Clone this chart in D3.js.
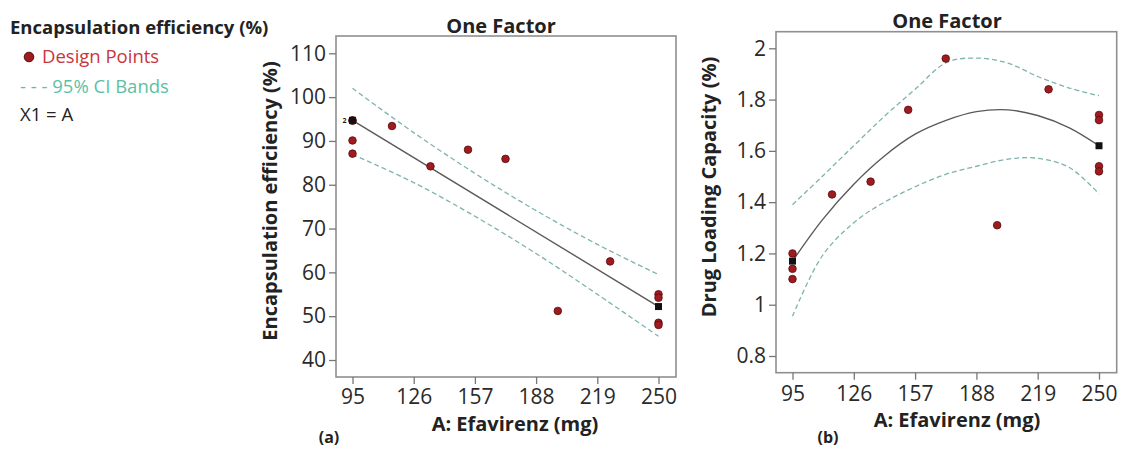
<!DOCTYPE html>
<html>
<head>
<meta charset="utf-8">
<script src="https://cdn.jsdelivr.net/npm/d3@7"></script>
<style>
    body { margin: 0; background: #fff; }
    svg text { font-family: "Open Sans", sans-serif; }
</style>
</head>
<body>
<div class="canvas"></div>
<script>
// tick labels shared by both panels (A: Efavirenz, mg)
const efvTicks = [95, 126, 157, 188, 219, 250]
const eeTicks = [40, 50, 60, 70, 80, 90, 100, 110]
const dlcTicks = [0.8, 1, 1.2, 1.4, 1.6, 1.8, 2]

// (a) encapsulation efficiency - design points
const eeX = [95, 95, 95, 95, 115, 134.5, 153.5, 172.5, 199, 225.5, 250, 250, 250, 250]
const eeY = [94.7, 94.6, 90.1, 87.1, 93.4, 84.2, 88.0, 85.9, 51.2, 62.5, 55.0, 54.2, 48.5, 48.0]
// (a) fitted line and 95% CI bands
const eeFitX = [95, 250]
const eeFit = [94.7, 52.2]
const eeBandX = [95, 126, 157, 188, 219, 250]
const eeUpper = [102.0, 91.9, 82.6, 74.1, 66.4, 59.5]
const eeLower = [86.9, 80.5, 72.8, 64.3, 55.0, 45.4]

// (b) drug loading capacity - design points
const dlcX = [95, 95, 95, 115, 134.5, 153.5, 172.5, 198.5, 224.5, 250, 250, 250, 250]
const dlcY = [1.20, 1.14, 1.10, 1.43, 1.48, 1.76, 1.96, 1.31, 1.84, 1.74, 1.72, 1.54, 1.52]
// (b) fitted curve and 95% CI bands
const dlcCurveX = [95, 110, 126, 141.5, 157, 173, 188, 204, 219, 235, 250]
const dlcFit = [1.17, 1.33, 1.47, 1.58, 1.665, 1.72, 1.753, 1.76, 1.738, 1.69, 1.62]
const dlcUpper = [1.39, 1.50, 1.62, 1.735, 1.84, 1.945, 1.962, 1.942, 1.89, 1.845, 1.815]
const dlcLower = [0.955, 1.19, 1.32, 1.40, 1.46, 1.51, 1.54, 1.568, 1.571, 1.535, 1.432]

// predicted means at the factor ends (black squares)
const meanX = [95, 250]
const eeMean = [94.7, 52.2]
const dlcMean = [1.17, 1.62]

const svg = d3.select(".canvas")
    .append("svg")
    .attr("width", 1121)
    .attr("height", 450)

const red = "#9e1b1f"
const teal = "#7fb3ae"

// legend on the left
const legend = svg.append("g")
legend.append("text")
    .attr("x", 10).attr("y", 34)
    .attr("font-size", 18.5).attr("font-weight", "bold")
    .attr("fill", "#222")
    .text("Encapsulation efficiency (%)")
legend.append("circle")
    .attr("cx", 29).attr("cy", 57).attr("r", 4.8)
    .attr("fill", red).attr("stroke", "#5a0a0c")
legend.append("text")
    .attr("x", 42).attr("y", 63)
    .attr("font-size", 18.5)
    .attr("fill", "#c8363c")
    .text("Design Points")
legend.append("text")
    .attr("x", 20).attr("y", 93)
    .attr("font-size", 18.5)
    .attr("fill", "#5cbfa5")
    .text("- - - 95% CI Bands")
legend.append("text")
    .attr("x", 20).attr("y", 121)
    .attr("font-size", 18.5)
    .attr("fill", "#222")
    .text("X1 = A")

function drawPanel(p) {
    const g = svg.append("g")

    const x = d3.scaleLinear()
        .domain([95, 250])
        .range(p.xRange)
    const y = d3.scaleLinear()
        .domain(p.yDomain)
        .range(p.yRange)

    // plot frame
    g.append("rect")
        .attr("x", p.frame[0]).attr("y", p.frame[1])
        .attr("width", p.frame[2] - p.frame[0])
        .attr("height", p.frame[3] - p.frame[1])
        .attr("fill", "none")
        .attr("stroke", "#8f8f8f")
        .attr("stroke-width", 1.6)

    const xAxis = d3.axisBottom(x)
        .tickValues(efvTicks)
        .tickSize(7)
        .tickSizeOuter(0)
        .tickPadding(p.xPad)
    const yAxis = d3.axisLeft(y)
        .tickValues(p.yTicks)
        .tickFormat(d => String(d))
        .tickSize(7)
        .tickSizeOuter(0)
        .tickPadding(3)

    const xg = g.append("g")
        .attr("transform", `translate(0, ${p.frame[3]})`)
        .call(xAxis)
    const yg = g.append("g")
        .attr("transform", `translate(${p.frame[0]}, 0)`)
        .call(yAxis)

    for (const ag of [xg, yg]) {
        ag.select(".domain").remove()
        ag.selectAll("line").attr("stroke", "#777").attr("stroke-width", 1.3)
        ag.selectAll("text")
            .attr("font-size", 21)
            .attr("fill", "#2a2a2a")
    }

    // titles
    g.append("text")
        .attr("x", p.titleX).attr("y", p.titleY)
        .attr("text-anchor", "middle")
        .attr("font-size", 20).attr("font-weight", "bold")
        .attr("fill", "#222")
        .text("One Factor")
    g.append("text")
        .attr("x", p.xLabelX).attr("y", p.xLabelY)
        .attr("text-anchor", "middle")
        .attr("font-size", 20).attr("font-weight", "bold")
        .attr("fill", "#222")
        .text("A: Efavirenz (mg)")
    g.append("text")
        .attr("transform", `translate(${p.yLabelX}, ${p.yLabelY}) rotate(-90)`)
        .attr("text-anchor", "middle")
        .attr("font-size", 20).attr("font-weight", "bold")
        .attr("fill", "#222")
        .text(p.yLabel)
    g.append("text")
        .attr("x", p.tagX).attr("y", p.tagY)
        .attr("text-anchor", "middle")
        .attr("font-size", 16).attr("font-weight", "bold")
        .attr("fill", "#222")
        .text(p.tag)

    const line = d3.line()
        .x(d => x(d[0]))
        .y(d => y(d[1]))
        .curve(d3.curveCatmullRom)

    // CI bands
    for (const band of [p.upper, p.lower]) {
        g.append("path")
            .datum(p.bandX.map((v, i) => [v, band[i]]))
            .attr("d", line)
            .attr("fill", "none")
            .attr("stroke", teal)
            .attr("stroke-width", 1.3)
            .attr("stroke-dasharray", "5,3")
    }

    // fitted response
    g.append("path")
        .datum(p.fitX.map((v, i) => [v, p.fit[i]]))
        .attr("d", line)
        .attr("fill", "none")
        .attr("stroke", "#5a5a5a")
        .attr("stroke-width", 1.4)

    // design points
    g.selectAll("circle.pt")
        .data(p.ptX.map((v, i) => [v, p.ptY[i]]))
        .enter()
        .append("circle")
        .attr("class", "pt")
        .attr("cx", d => x(d[0]))
        .attr("cy", d => y(d[1]))
        .attr("r", 3.8)
        .attr("fill", red)
        .attr("stroke", "#5a0a0c")
        .attr("stroke-width", 0.8)

    // means at the ends
    g.selectAll("rect.mean")
        .data(meanX.map((v, i) => [v, p.mean[i]]))
        .enter()
        .append("rect")
        .attr("class", "mean")
        .attr("x", d => x(d[0]) - 3.5)
        .attr("y", d => y(d[1]) - 3.5)
        .attr("width", 7)
        .attr("height", 7)
        .attr("fill", "#111")

    if (p.twoLabel) {
        g.append("text")
            .attr("x", x(95) - 6).attr("y", y(p.mean[0]) + 2.5)
            .attr("text-anchor", "end")
            .attr("font-size", 7).attr("font-weight", "bold")
            .attr("fill", "#222")
            .text("2")
    }
}

drawPanel({
    frame: [336, 36, 676, 377],
    xRange: [352.5, 658.5],
    yDomain: [40, 110],
    yRange: [360, 53.3],
    yTicks: eeTicks,
    xPad: 5,
    titleX: 501, titleY: 33,
    xLabelX: 515, xLabelY: 431,
    yLabelX: 277, yLabelY: 201,
    yLabel: "Encapsulation efficiency (%)",
    tagX: 329, tagY: 443, tag: "(a)",
    bandX: eeBandX, upper: eeUpper, lower: eeLower,
    fitX: eeFitX, fit: eeFit,
    ptX: eeX, ptY: eeY,
    mean: eeMean,
    twoLabel: true
})

drawPanel({
    frame: [776, 31.7, 1116.7, 372.7],
    xRange: [792.5, 1099],
    yDomain: [0.8, 2],
    yRange: [356, 48.3],
    yTicks: dlcTicks,
    xPad: 6,
    titleX: 947, titleY: 28,
    xLabelX: 957, xLabelY: 427,
    yLabelX: 716, yLabelY: 187,
    yLabel: "Drug Loading Capacity (%)",
    tagX: 828, tagY: 443, tag: "(b)",
    bandX: dlcCurveX, upper: dlcUpper, lower: dlcLower,
    fitX: dlcCurveX, fit: dlcFit,
    ptX: dlcX, ptY: dlcY,
    mean: dlcMean,
    twoLabel: false
})
</script>
</body>
</html>
